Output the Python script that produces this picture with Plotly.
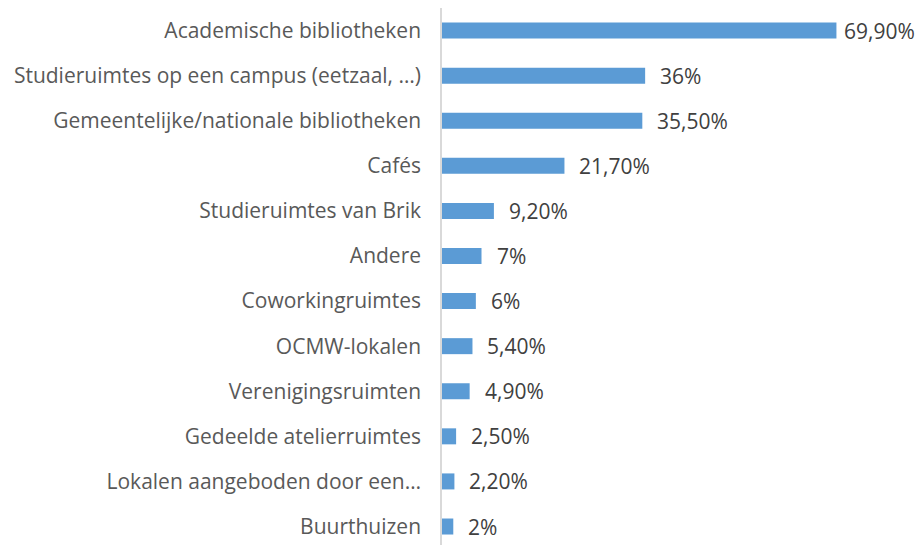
import plotly.graph_objects as go

categories = [
    "Academische bibliotheken",
    "Studieruimtes op een campus (eetzaal, …)",
    "Gemeentelijke/nationale bibliotheken",
    "Cafés",
    "Studieruimtes van Brik",
    "Andere",
    "Coworkingruimtes",
    "OCMW-lokalen",
    "Verenigingsruimten",
    "Gedeelde atelierruimtes",
    "Lokalen aangeboden door een…",
    "Buurthuizen",
]
values = [69.9, 36, 35.5, 21.7, 9.2, 7, 6, 5.4, 4.9, 2.5, 2.2, 2]
value_labels = ["69,90%", "36%", "35,50%", "21,70%", "9,20%", "7%", "6%",
                "5,40%", "4,90%", "2,50%", "2,20%", "2%"]

FONT = "Open Sans, sans-serif"
TXT = "#404040"
AXTXT = "#595959"
FS = 21

fig = go.Figure(go.Bar(
    x=values, y=categories, orientation="h",
    marker=dict(color="#5B9BD5", line=dict(width=0)),
    hoverinfo="skip",
))

vmax = max(values)
for c, v, t in zip(categories, values, value_labels):
    fig.add_annotation(x=v, y=c, text=t, showarrow=False, xanchor="left",
                       yanchor="middle", xshift=6 if v == vmax else 13,
                       font=dict(family=FONT, size=FS, color=TXT))

fig.update_layout(
    width=915, height=545,
    margin=dict(l=442, r=78, t=8, b=0, autoexpand=False),
    paper_bgcolor="white", plot_bgcolor="white",
    bargap=0.645,
    showlegend=False,
    font=dict(family=FONT, size=FS, color=TXT),
)
fig.update_xaxes(range=[0, 70], visible=False, showgrid=False, zeroline=False)
fig.update_yaxes(
    categoryorder="array", categoryarray=categories,
    range=[11.41, -0.5],
    showline=True, linecolor="#D9D9D9", linewidth=1.5,
    showgrid=False, zeroline=False,
    ticks="", ticklabelstandoff=15, automargin=False,
    tickfont=dict(family=FONT, size=FS, color=AXTXT),
)

fig.write_html(
    "out.html",
    config={"displayModeBar": False},
    post_script="document.body.style.margin='0';document.body.style.overflow='hidden';",
)
